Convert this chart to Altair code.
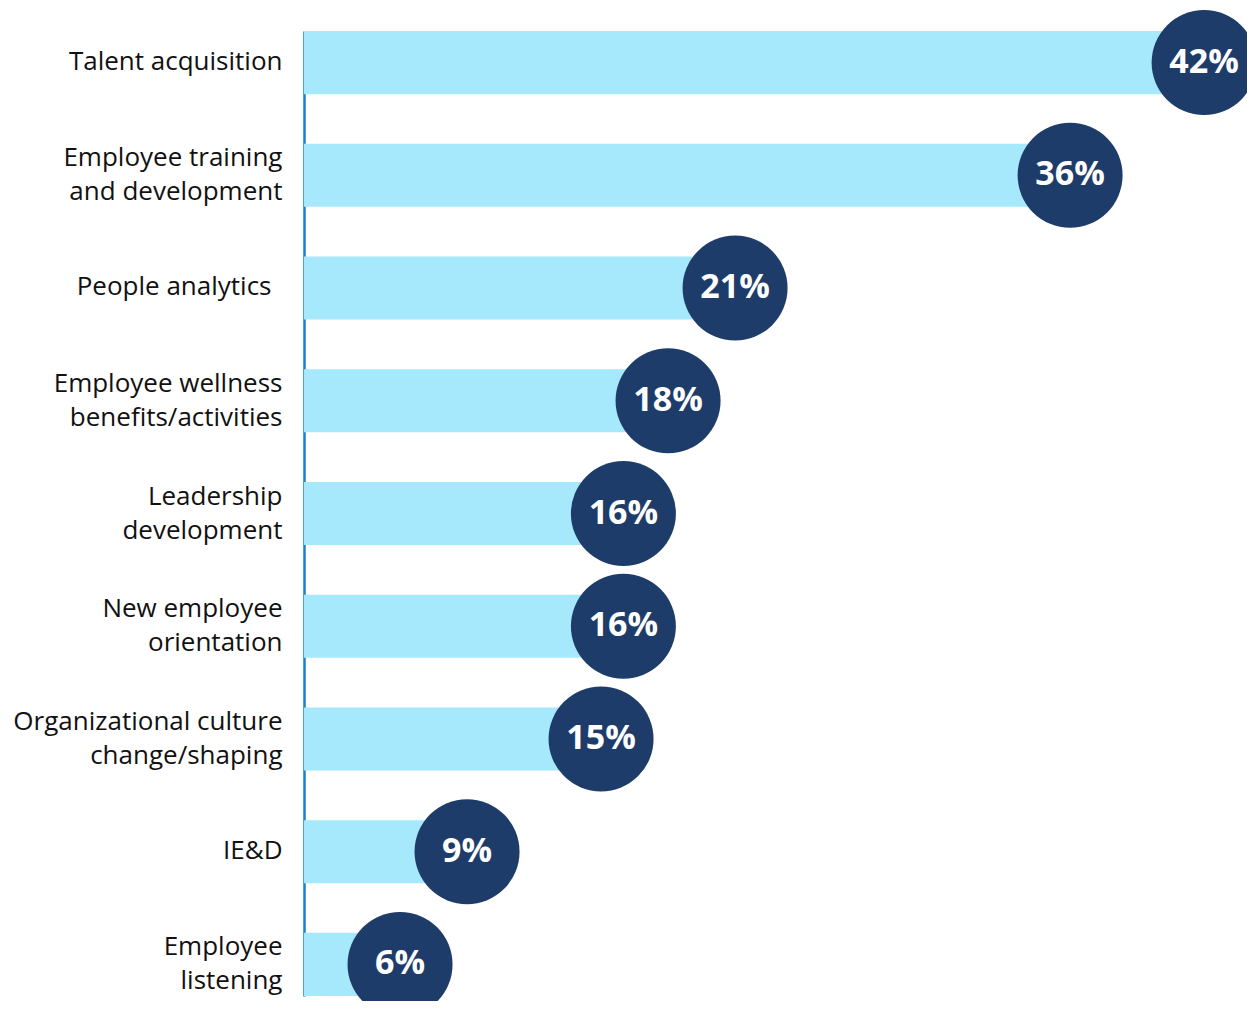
import altair as alt
import pandas as pd

categories = [
    "Talent acquisition",
    "Employee training\nand development",
    "People analytics",
    "Employee wellness\nbenefits/activities",
    "Leadership\ndevelopment",
    "New employee\norientation",
    "Organizational culture\nchange/shaping",
    "IE&D",
    "Employee\nlistening",
]
values = [42, 36, 21, 18, 16, 16, 15, 9, 6]
labels = [f"{v}%" for v in values]

df = pd.DataFrame({"cat": categories, "value": values, "label": labels})

FONT = "Open Sans"
x_scale = alt.Scale(domain=[1.7, 43.92], zero=False, nice=False)
y_scale = alt.Scale(domain=categories, paddingInner=0.44, paddingOuter=0)

base = alt.Chart(df)

bars = base.mark_bar(color="#a6e8fc", clip=True).encode(
    x=alt.X("value:Q", scale=x_scale, axis=None),
    y=alt.Y(
        "cat:N",
        scale=y_scale,
        sort=None,
        title=None,
        axis=alt.Axis(
            ticks=False,
            domain=True,
            domainColor="#1a7fd0",
            domainWidth=2.5,
            labelExpr="split(datum.label, '\\n')",
            labelFont=FONT,
            labelFontSize=26,
            labelColor="#111111",
            labelLineHeight=34,
            labelPadding={
                "condition": {"test": "datum.value == 'People analytics'", "value": 33},
                "value": 22,
            },
            labelOffset={
                "condition": {"test": "indexof(datum.value, '\\n') >= 0", "value": -17},
                "value": -1,
            },
            labelBaseline="middle",
            labelLimit=400,
            grid=False,
        ),
    ),
)

circles = base.mark_point(
    shape="circle", filled=True, size=11025, color="#1e3c6a", opacity=1
).encode(
    x=alt.X("value:Q", scale=x_scale),
    y=alt.Y("cat:N", scale=y_scale, sort=None),
)

texts = base.mark_text(
    font=FONT, fontSize=34, fontWeight="bold", color="white",
    align="center", baseline="middle"
).encode(
    x=alt.X("value:Q", scale=x_scale),
    y=alt.Y("cat:N", scale=y_scale, sort=None),
    text="label:N",
)

chart = (
    alt.layer(bars, circles, texts)
    .properties(
        width=943,
        height=965,
        autosize=alt.AutoSizeParams(type="none"),
        padding={"left": 296, "top": 23, "right": 0, "bottom": 5},
    )
    .configure_view(stroke=None)
)

chart.save("out.html", embed_options={"renderer": "svg", "actions": False})
